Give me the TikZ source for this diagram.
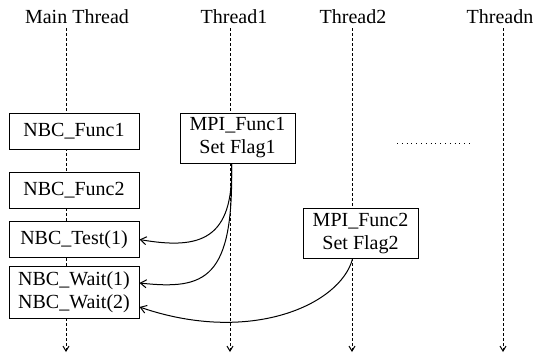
\documentclass[tikz,border=0pt]{standalone}
\usepackage{fontspec}
\setmainfont{Liberation Serif}
\usetikzlibrary{arrows.meta}

\begin{document}
\begin{tikzpicture}[x=0.5pt, y=-0.5pt,
        font=\fontsize{10}{11.5}\selectfont,
        nbc/.style={rectangle, draw=black, fill=white, line width=0.5pt, minimum width=65pt, minimum height=18pt, inner sep=2pt, align=center},
        mpi/.style={rectangle, draw=black, fill=white, line width=0.5pt, minimum width=57.5pt, minimum height=25pt, inner sep=2pt, align=center},
        lifeline/.style={dash pattern=on 1.5pt off 1pt, line width=0.5pt, -{Straight Barb[length=2.5pt,width=3pt]}},
        arrow/.style={-{Straight Barb[length=3pt,width=4pt]}, line width=0.5pt}]

        \useasboundingbox (0,0) rectangle (535,355);

        \node (lmain) at (77,17) {Main Thread};
        \node (lta) at (234,17) {Thread1};
        \node (ltb) at (353,17) {Thread2};
        \node (ltn) at (500,17) {Threadn};

        \foreach \x/\n in {66/main, 230/ta, 352/tb, 503/tn} {
            \coordinate (\n top) at (\x,28);
            \coordinate (\n bot) at (\x,352);
            \draw [lifeline] (\n top) -- (\n bot);
        }

        \node (func1) [nbc] at (74,131.5) {NBC\_Func1};
        \node (func2) [nbc] at (74,190) {NBC\_Func2};
        \node (test) [nbc] at (74,239.5) {NBC\_Test(1)};
        \node (wait) [nbc, minimum height=26pt] at (74,292) {NBC\_Wait(1)\\NBC\_Wait(2)};

        \node (mpia) [mpi] at (237.5,138) {MPI\_Func1\\Set Flag1};
        \node (mpib) [mpi] at (360.5,233.5) {MPI\_Func2\\Set Flag2};

        \coordinate (dotsl) at (397,143);
        \coordinate (dotsr) at (472,143);
        \draw [dotted, line width=0.4pt] (dotsl) -- (dotsr);

        \draw [arrow] ([xshift=-3pt]mpia.south) .. controls (234,240) and (200,250) .. (test.east);
        \draw [arrow] ([xshift=-3pt]mpia.south) .. controls (234,280) and (205,290) .. ([yshift=4.5pt]wait.east);
        \draw [arrow] ([xshift=-4pt]mpib.south) .. controls (340,305) and (250,345) .. ([yshift=-7.5pt]wait.east);
    \end{tikzpicture}
\end{document}
